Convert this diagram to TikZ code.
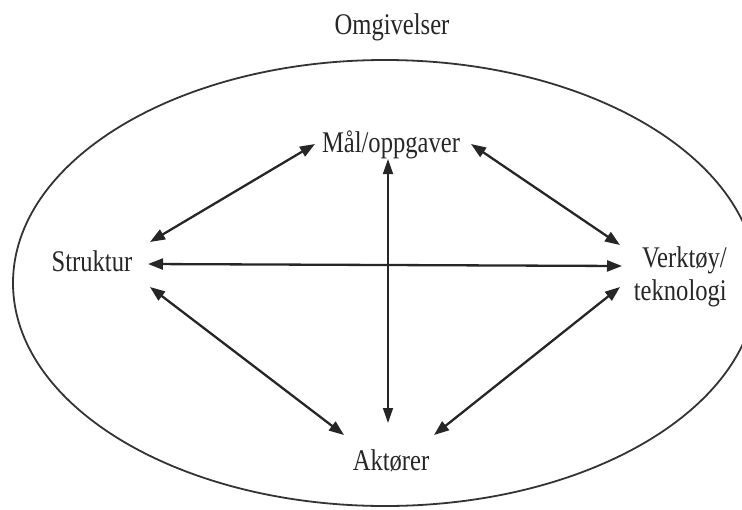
\documentclass[tikz,border=0pt]{standalone}
\usepackage{fontspec}
\setmainfont{Liberation Serif}
\newfontfamily\lab{Liberation Serif}[FakeStretch=0.82]
\usetikzlibrary{arrows.meta}
\begin{document}
\begin{tikzpicture}[x=1pt,y=-1pt,
  lbl/.style={font=\lab\fontsize{30}{33}\selectfont, inner sep=0pt, text=black!85},
  link/.style={{Triangle[length=15pt,width=11pt]}-{Triangle[length=15pt,width=11pt]}, line width=2.3pt, draw=black!85},
  thin link/.style={{Triangle[length=15pt,width=10pt]}-{Triangle[length=15pt,width=10pt]}, line width=1.5pt, draw=black!85},
  env/.style={line width=1.8pt, draw=black!80}]
\useasboundingbox (0,0) rectangle (742,509);
\draw[env] (385,283) ellipse [x radius=372, y radius=223];
\node[lbl, anchor=base] (omg) at (392,34) {Omgivelser};
\node[lbl, anchor=base] (mal) at (391,152) {Mål/oppgaver};
\node[lbl, anchor=base] (str) at (92,271) {Struktur};
\node[lbl, anchor=north east, align=right] (ver) at (727,246) {Verktøy/\\teknologi};
\node[lbl, anchor=base] (akt) at (391,470) {Aktører};
% connector ends
\coordinate (s1) at (150,242);
\coordinate (s2) at (148,264);
\coordinate (s3) at (150,287);
\coordinate (m1) at (315,144);
\coordinate (m2) at (471,144);
\coordinate (m3) at (388,159);
\coordinate (v1) at (620,245);
\coordinate (v2) at (622,266);
\coordinate (v3) at (620,287);
\coordinate (a1) at (344,435);
\coordinate (a2) at (434,435);
\coordinate (a3) at (388,423);
\draw[link] (s1) -- (m1);
\draw[link] (m2) -- (v1);
\draw[link] (s2) -- (v2);
\draw[link] (s3) -- (a1);
\draw[link] (v3) -- (a2);
\draw[thin link] (m3) -- (a3);
\end{tikzpicture}
\end{document}
